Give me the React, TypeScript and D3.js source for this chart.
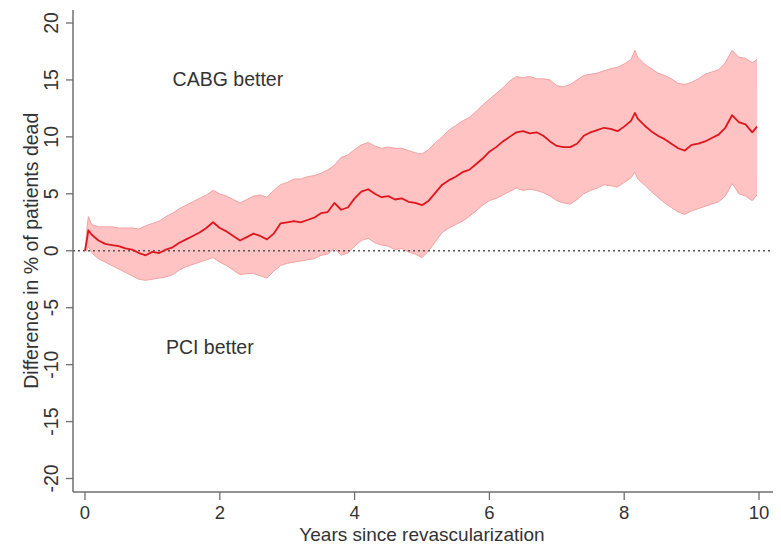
import React from "react";
import * as d3 from "d3";

// Years since revascularization
const years = [
  0, 0.03, 0.05, 0.1, 0.2, 0.3, 0.4, 0.5, 0.6, 0.7, 0.8, 0.9, 1.0, 1.1, 1.2, 1.3, 1.4, 1.5, 1.6, 1.7,
  1.8, 1.9, 2.0, 2.1, 2.2, 2.3, 2.4, 2.5, 2.6, 2.7, 2.8, 2.9, 3.0, 3.1, 3.2, 3.3, 3.4, 3.5, 3.6, 3.7,
  3.8, 3.9, 4.0, 4.1, 4.2, 4.3, 4.4, 4.5, 4.6, 4.7, 4.8, 4.9, 5.0, 5.1, 5.2, 5.3, 5.4, 5.5, 5.6, 5.7,
  5.8, 5.9, 6.0, 6.1, 6.2, 6.3, 6.4, 6.5, 6.6, 6.7, 6.8, 6.9, 7.0, 7.1, 7.2, 7.3, 7.4, 7.5, 7.6, 7.7,
  7.8, 7.9, 8.0, 8.1, 8.16, 8.2, 8.3, 8.4, 8.5, 8.6, 8.7, 8.8, 8.9, 9.0, 9.1, 9.2, 9.3, 9.4, 9.5, 9.6,
  9.65, 9.7, 9.8, 9.9, 9.97,
];

// Difference in % of patients dead (CABG minus PCI)
const difference = [
  0, 1.0, 1.8, 1.4, 0.9, 0.6, 0.5, 0.4, 0.2, 0.1, -0.2, -0.4, -0.1, -0.2, 0.1, 0.3, 0.7, 1.0, 1.3, 1.6,
  2.0, 2.5, 2.0, 1.7, 1.3, 0.9, 1.2, 1.5, 1.3, 1.0, 1.5, 2.4, 2.5, 2.6, 2.5, 2.7, 2.9, 3.3, 3.4, 4.2,
  3.6, 3.8, 4.6, 5.2, 5.4, 5.0, 4.7, 4.8, 4.5, 4.6, 4.3, 4.2, 4.0, 4.4, 5.1, 5.8, 6.2, 6.5, 6.9, 7.1,
  7.6, 8.1, 8.7, 9.1, 9.6, 10.0, 10.4, 10.5, 10.3, 10.4, 10.1, 9.6, 9.2, 9.1, 9.1, 9.4, 10.1, 10.4, 10.6, 10.8,
  10.7, 10.5, 10.9, 11.4, 12.1, 11.6, 11.0, 10.5, 10.1, 9.8, 9.4, 9.0, 8.8, 9.3, 9.4, 9.6, 9.9, 10.2, 10.8, 11.9,
  11.6, 11.3, 11.1, 10.4, 10.9,
];

// Upper bound of the confidence band
const upper = [
  0, 2.0, 3.0, 2.3, 2.1, 2.1, 2.1, 2.0, 2.0, 2.0, 1.9, 2.2, 2.4, 2.6, 3.0, 3.3, 3.7, 4.0, 4.3, 4.6,
  4.9, 5.3, 5.0, 4.8, 4.5, 4.2, 4.5, 4.8, 4.9, 4.7, 5.3, 5.8, 6.0, 6.3, 6.3, 6.5, 6.6, 6.8, 7.1, 7.5,
  8.2, 8.4, 8.9, 9.3, 9.5, 9.2, 9.0, 9.1, 9.0, 9.0, 8.8, 8.6, 8.5, 8.9, 9.5, 10.0, 10.6, 11.0, 11.4, 11.7,
  12.2, 12.8, 13.3, 13.8, 14.3, 14.9, 15.3, 15.2, 15.3, 15.1, 15.1, 15.0, 14.5, 14.4, 14.6, 15.0, 15.4, 15.5, 15.6, 15.8,
  16.0, 16.1, 16.4, 16.8, 17.6, 17.0, 16.4, 16.0, 15.6, 15.4, 15.1, 14.7, 14.6, 14.8, 15.1, 15.5, 15.7, 15.9, 16.5, 17.6,
  17.3, 17.0, 16.9, 16.5, 16.8,
];

// Lower bound of the confidence band
const lower = [
  0, 0, 0.4, -0.2, -0.7, -1.0, -1.3, -1.6, -1.9, -2.2, -2.5, -2.6, -2.5, -2.4, -2.3, -2.1, -1.7, -1.4, -1.2, -1.0,
  -0.8, -0.6, -1.0, -1.3, -1.7, -2.1, -2.0, -2.0, -2.2, -2.4, -1.8, -1.3, -1.1, -1.0, -0.9, -0.8, -0.7, -0.4, -0.3, 0.2,
  -0.4, -0.2, 0.4, 0.9, 1.1, 0.7, 0.5, 0.4, 0.1, 0.2, -0.1, -0.3, -0.6, 0.0, 0.8, 1.6, 2.0, 2.3, 2.6, 3.0,
  3.5, 4.0, 4.4, 4.6, 4.9, 5.2, 5.5, 5.3, 5.4, 5.3, 5.1, 4.8, 4.4, 4.2, 4.1, 4.5, 5.0, 5.3, 5.5, 5.8,
  5.7, 5.6, 6.0, 6.4, 6.9, 6.3, 5.8, 5.2, 4.7, 4.2, 3.8, 3.4, 3.2, 3.5, 3.7, 3.9, 4.1, 4.3, 4.8, 5.9,
  5.5, 5.0, 4.8, 4.4, 4.9,
];

const xTicks = [0, 2, 4, 6, 8, 10];
const yTicks = [-20, -15, -10, -5, 0, 5, 10, 15, 20];

const annotations = [
  { text: "CABG better", year: 1.3, value: 15 },
  { text: "PCI better", year: 1.2, value: -8.5 },
];

const W = 781;
const H = 545;
const FONT = "'Liberation Sans', Arial, Helvetica, sans-serif";
const TEXT = "#333";
const AXIS = "#6f6f6f";

export default function App() {
  const x = d3.scaleLinear().domain([0, 10]).range([85, 759]);
  const y = d3.scaleLinear().domain([-20, 20]).range([478.5, 23]);

  const axisLeft = 73;
  const axisBottom = 492;

  const rows = years.map((t, i) => ({ t, d: difference[i], lo: lower[i], hi: upper[i] }));

  const band = d3
    .area<(typeof rows)[number]>()
    .x((r) => x(r.t))
    .y0((r) => y(r.lo))
    .y1((r) => y(r.hi))(rows) as string;

  const upperLine = d3
    .line<(typeof rows)[number]>()
    .x((r) => x(r.t))
    .y((r) => y(r.hi))(rows) as string;
  const lowerLine = d3
    .line<(typeof rows)[number]>()
    .x((r) => x(r.t))
    .y((r) => y(r.lo))(rows) as string;
  const mainLine = d3
    .line<(typeof rows)[number]>()
    .x((r) => x(r.t))
    .y((r) => y(r.d))(rows) as string;

  return (
    <svg
      width={W}
      height={H}
      viewBox={`0 0 ${W} ${H}`}
      style={{ position: "absolute", left: 0, top: 0, background: "#fff" }}
      fontFamily={FONT}
    >
      <rect x={0} y={0} width={W} height={H} fill="#fff" />

      {/* confidence band */}
      <path d={band} fill="#ffc3c3" stroke="none" />
      <path d={upperLine} fill="none" stroke="#f2a3a3" strokeWidth={1} />
      <path d={lowerLine} fill="none" stroke="#f2a3a3" strokeWidth={1} />

      {/* zero reference line */}
      <line
        x1={axisLeft}
        x2={773}
        y1={y(0)}
        y2={y(0)}
        stroke="#555"
        strokeWidth={1.5}
        strokeDasharray="2 3"
      />

      {/* estimated difference */}
      <path d={mainLine} fill="none" stroke="#e0161e" strokeWidth={1.8} strokeLinejoin="round" />

      {/* y axis */}
      <line x1={axisLeft} x2={axisLeft} y1={10} y2={axisBottom} stroke={AXIS} strokeWidth={1.5} />
      {yTicks.map((v) => (
        <g key={`y${v}`}>
          <line x1={axisLeft - 7} x2={axisLeft} y1={y(v)} y2={y(v)} stroke={AXIS} strokeWidth={1.3} />
          <text
            transform={`translate(58, ${y(v)}) rotate(-90)`}
            textAnchor="middle"
            fontSize={19.5}
            fill={TEXT}
          >
            {v}
          </text>
        </g>
      ))}
      <text
        transform={`translate(38, ${(y(20) + y(-20)) / 2}) rotate(-90)`}
        textAnchor="middle"
        fontSize={19.5}
        fill={TEXT}
      >
        Difference in % of patients dead
      </text>

      {/* x axis */}
      <line x1={axisLeft} x2={773} y1={axisBottom} y2={axisBottom} stroke={AXIS} strokeWidth={1.5} />
      {xTicks.map((v) => (
        <g key={`x${v}`}>
          <line x1={x(v)} x2={x(v)} y1={axisBottom} y2={axisBottom + 8} stroke={AXIS} strokeWidth={1.3} />
          <text x={x(v)} y={519} textAnchor="middle" fontSize={18.5} fill={TEXT}>
            {v}
          </text>
        </g>
      ))}
      <text x={(x(0) + x(10)) / 2} y={541} textAnchor="middle" fontSize={19} fill={TEXT}>
        Years since revascularization
      </text>

      {/* region labels */}
      {annotations.map((a) => (
        <text key={a.text} x={x(a.year)} y={y(a.value) + 6} fontSize={19.5} fill={TEXT}>
          {a.text}
        </text>
      ))}
    </svg>
  );
}
